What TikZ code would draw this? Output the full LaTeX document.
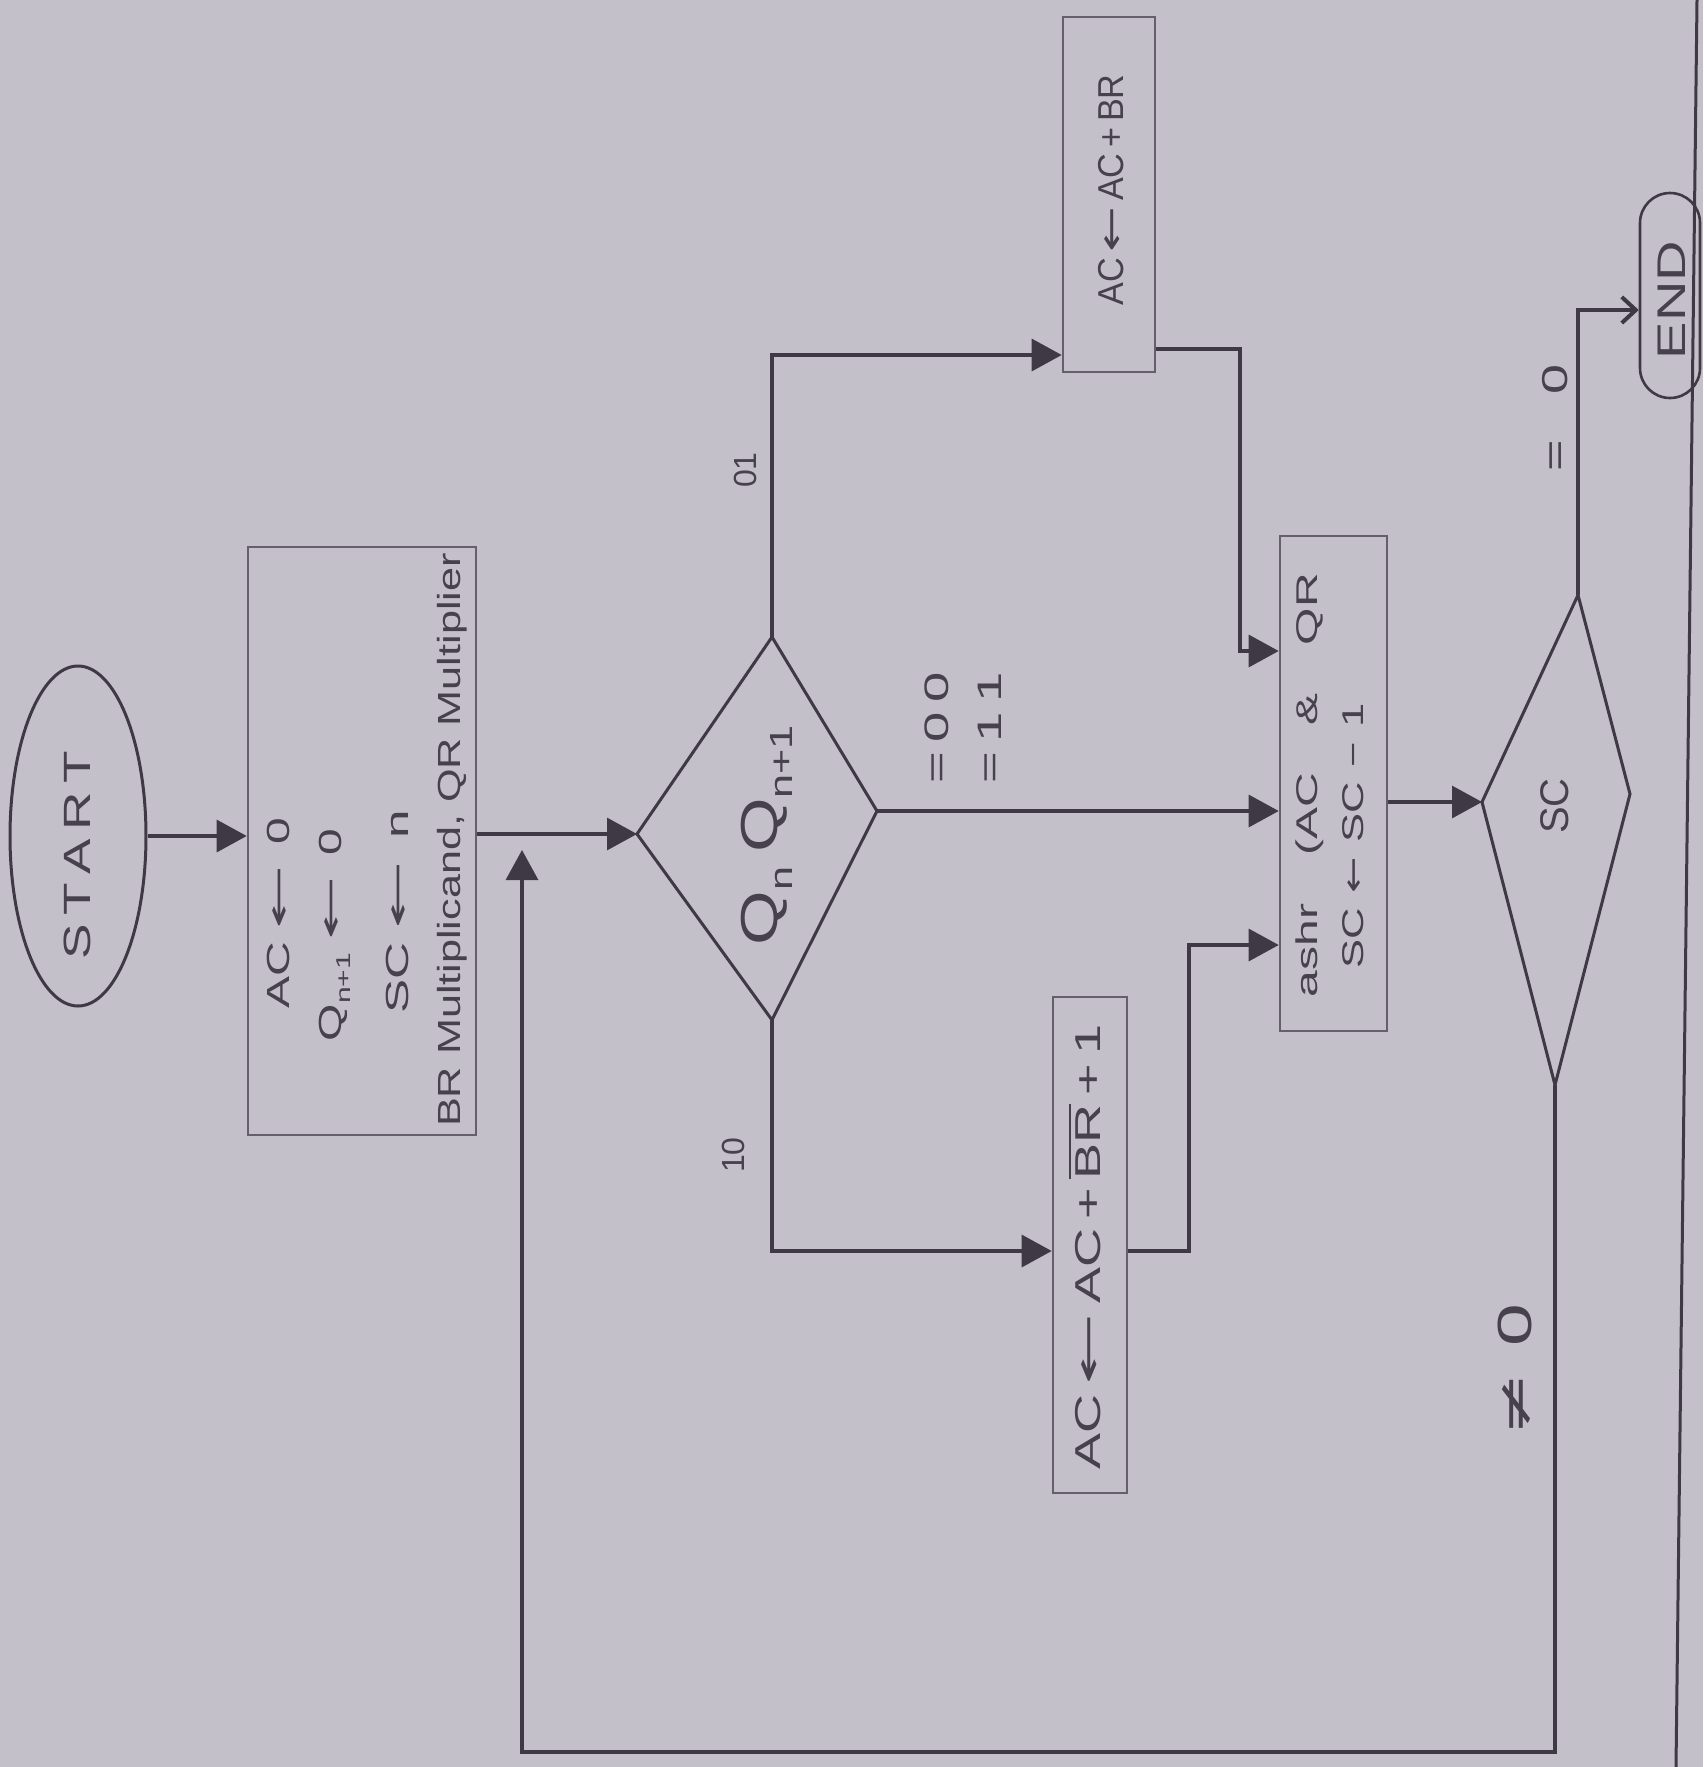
\documentclass[tikz,border=0pt]{standalone}
\usepackage{fontspec}
\setsansfont{Liberation Sans}
\newfontfamily\symf{DejaVu Sans}
\usepackage{graphicx}
\usetikzlibrary{shapes.geometric,arrows.meta}
\definecolor{bg}{RGB}{196,192,202}
\definecolor{ink}{RGB}{62,57,68}
\definecolor{boxink}{RGB}{100,95,106}
\definecolor{inkt}{RGB}{70,65,76}
\newcommand{\myfs}[1]{\fontsize{#1}{#1}\selectfont}
\newcommand{\larr}{{\symf\scalebox{1.6}[1]{←}}}
\newcommand{\sarr}{{\symf ←}}
\newcommand{\lowsub}[2]{\raisebox{-0.3em}{\fontsize{#1}{#1}\selectfont #2}}
\newsavebox{\obox}
\newcommand{\ovl}[1]{\sbox{\obox}{#1}\rlap{\raisebox{0.82em}{\rule{\wd\obox}{2.4pt}}}\usebox{\obox}}
\begin{document}
\begin{tikzpicture}[x=1pt,y=-1pt,
  line/.style={draw=ink, line width=3.2pt},
  arr/.style={line, -{Triangle[length=30pt,width=32pt]}},
  arrend/.style={line, -{Straight Barb[length=14pt,width=26pt,line width=4pt]}},
  box/.style={draw=boxink, line width=2.6pt, rectangle, inner sep=0pt},
  txt/.style={rotate=90, inner sep=0pt, text=inkt, font=\sffamily},
]
\fill[bg] (0,0) rectangle (1703,1767);
\useasboundingbox (0,0) rectangle (1703,1767);

% page border line
\draw[draw=ink, line width=3pt] (1697,0) -- (1676,1767);

% START
\node[ellipse, draw=ink, line width=3pt, minimum width=136pt, minimum height=340pt, inner sep=0pt] (start) at (78,836) {};
\node[txt] (starttxt) at (77,855) {\myfs{38}\scalebox{1.4}[1]{S\hspace{6pt}T\hspace{6pt}A\hspace{6pt}R\hspace{6pt}T}};

% init box
\node[box, minimum width=228pt, minimum height=588pt] (init) at (362,841) {};
\node[txt] (t1) at (278,913) {\myfs{32}\scalebox{1.5}[1]{AC\hspace{8pt}\larr\hspace{14pt}0}};
\node[txt] (t2) at (335,935) {\myfs{32}\scalebox{1.5}[1]{Q\lowsub{20}{n+1}\hspace{8pt}\larr\hspace{14pt}0}};
\node[txt] (t3) at (397,912) {\myfs{32}\scalebox{1.6}[1]{SC\hspace{8pt}\larr\hspace{14pt}n}};
\node[txt] (t4) at (452,840) {\myfs{32}\scalebox{1.35}[1]{BR Multiplicand, QR Multiplier}};

% decision Qn Qn+1
\coordinate (d1L) at (637,834);
\coordinate (d1T) at (772,637);
\coordinate (d1R) at (877,811);
\coordinate (d1B) at (772,1020);
\draw[draw=ink, line width=3pt, line join=miter] (d1L) -- (d1T) -- (d1R) -- (d1B) -- cycle;
\node[txt] (d1txt) at (767,835) {\myfs{52}\scalebox{1.35}[1]{Q\lowsub{32}{n}\hspace{10pt}Q\lowsub{32}{n+1}}};

% boxes
\node[box, minimum width=92pt, minimum height=355pt] (addbox) at (1109,194.5) {};
\node[txt] (addtxt) at (1111,190) {\myfs{36}\scalebox{0.95}[1]{AC\hspace{6pt}\larr\hspace{6pt}AC\hspace{6pt}+\hspace{6pt}BR}};
\node[box, minimum width=74pt, minimum height=496pt] (subbox) at (1090,1245) {};
\node[txt] (subtxt) at (1085,1247) {\myfs{36}\scalebox{1.5}[1]{AC\hspace{6pt}\larr\hspace{6pt}AC\hspace{6pt}+\hspace{6pt}\ovl{BR}\hspace{6pt}+\hspace{6pt}1}};
\node[box, minimum width=107pt, minimum height=495pt] (shbox) at (1333.5,783.5) {};
\node[txt] (sh1) at (1310,785) {\myfs{30}\scalebox{1.6}[1]{ashr\hspace{30pt}(AC\hspace{30pt}\&\hspace{30pt}QR}};
\node[txt] (sh2) at (1353,836) {\myfs{30}\scalebox{1.45}[1]{SC\hspace{10pt}\sarr\hspace{10pt}SC\hspace{10pt}−\hspace{10pt}1}};

% decision SC
\coordinate (scL) at (1482,802);
\coordinate (scT) at (1578,595);
\coordinate (scR) at (1630,794);
\coordinate (scB) at (1555,1085);
\draw[draw=ink, line width=3pt, line join=miter] (scL) -- (scT) -- (scR) -- (scB) -- cycle;
\node[txt] (sctxt) at (1555,806) {\myfs{40}SC};

% END
\node[draw=ink, line width=2.6pt, rounded corners=30pt, minimum width=60pt, minimum height=205pt, inner sep=0pt] (endn) at (1670,295.5) {};
\node[txt] (endtxt) at (1672,300) {\myfs{40}\scalebox{1.4}[1]{END}};

% labels
\node[txt] (l01) at (745,470) {\myfs{32}01};
\node[txt] (l10) at (733,1155) {\myfs{32}10};
\node[txt] (leq00) at (937,728) {\myfs{34}\scalebox{1.6}[1]{=\hspace{6pt}0\hspace{6pt}0}};
\node[txt] (leq11) at (990,728) {\myfs{34}\scalebox{1.6}[1]{=\hspace{6pt}1\hspace{6pt}1}};
\node[txt] (leq0) at (1555,418) {\myfs{36}\scalebox{1.5}[1]{=\hspace{30pt}0}};
\node[txt] (lne0) at (1515,1370) {\myfs{48}\scalebox{1.6}[1]{{\symf ≠}\hspace{16pt}0}};

% connectors
\coordinate (ya) at (0,355);
\coordinate (ja) at (1240,349);
\coordinate (yq1) at (0,651);
\coordinate (yb) at (0,1251);
\coordinate (jb) at (1189,1251);
\coordinate (yq3) at (0,945);
\coordinate (ye) at (0,310);
\coordinate (lp) at (522,1752);
\coordinate (lpend) at (522,850);

\draw[arr] (start.east) -- (start.east -| init.west);
\draw[arr] (init.east |- d1L) -- (d1L);
\draw[arr] (d1T) |- (addbox.west |- ya);
\draw[arr] (addbox.east |- ja) -- (ja) |- (shbox.west |- yq1);
\draw[arr] (d1R) -- (d1R -| shbox.west);
\draw[arr] (d1B) |- (subbox.west |- yb);
\draw[arr] (subbox.east |- jb) -- (jb) |- (shbox.west |- yq3);
\draw[arr] (shbox.east |- scL) -- (scL);
\draw[arrend] (scT) |- (endn.west |- ye);
\draw[arr] (scB) |- (lp) -- (lpend);
\end{tikzpicture}
\end{document}
